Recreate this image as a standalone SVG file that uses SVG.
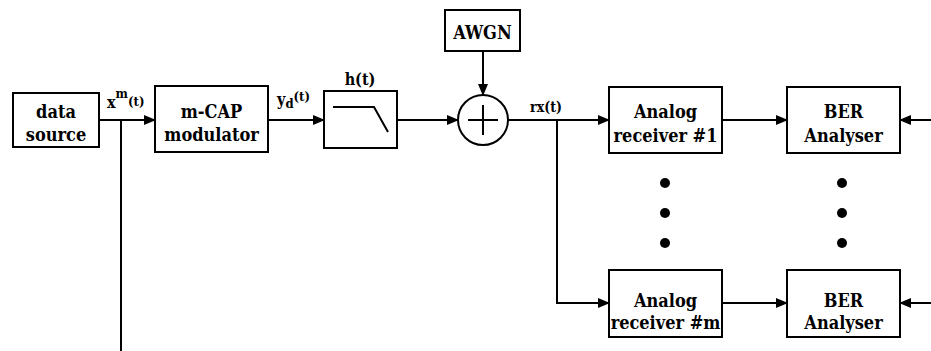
<svg xmlns="http://www.w3.org/2000/svg" width="931" height="351" viewBox="0 0 931 351">
<defs>
<style>
.box{fill:#fff;stroke:#000;stroke-width:2}
.ln{fill:none;stroke:#000;stroke-width:2}
.t{font-family:"DejaVu Serif Condensed","DejaVu Serif",serif;font-stretch:condensed;font-weight:bold;font-size:18px;fill:#000;text-anchor:middle}
.lb{font-family:"DejaVu Serif Condensed","DejaVu Serif",serif;font-stretch:condensed;font-weight:bold;fill:#000}
.dot{fill:#000}
</style>
<marker id="ah" markerWidth="12" markerHeight="10" refX="11" refY="5" orient="auto" markerUnits="userSpaceOnUse">
<path d="M0,0 L12,5 L0,10 Z" fill="#000"/>
</marker>
</defs>
<rect width="931" height="351" fill="#fff"/>
<g id="connectors">
<line class="ln" x1="99" y1="120" x2="155" y2="120" marker-end="url(#ah)"/>
<line class="ln" x1="121" y1="120" x2="121" y2="351"/>
<line class="ln" x1="268" y1="120" x2="324" y2="120" marker-end="url(#ah)"/>
<line class="ln" x1="397" y1="120" x2="458" y2="120" marker-end="url(#ah)"/>
<line class="ln" x1="483" y1="51" x2="483" y2="95" marker-end="url(#ah)"/>
<line class="ln" x1="508" y1="120" x2="609" y2="120" marker-end="url(#ah)"/>
<polyline class="ln" points="557,120 557,303 609,303" marker-end="url(#ah)"/>
<line class="ln" x1="722" y1="120" x2="787" y2="120" marker-end="url(#ah)"/>
<line class="ln" x1="722" y1="303" x2="787" y2="303" marker-end="url(#ah)"/>
<line class="ln" x1="931" y1="120" x2="900" y2="120" marker-end="url(#ah)"/>
<line class="ln" x1="931" y1="303" x2="900" y2="303" marker-end="url(#ah)"/>
</g>
<g id="labels">
<text class="lb" x="107" y="108" font-size="16">x<tspan font-size="13" dy="-10">m</tspan><tspan font-size="13" dy="8">(t)</tspan></text>
<text class="lb" x="277" y="105" font-size="16">y<tspan font-size="13" dy="3">d</tspan><tspan font-size="13" dy="-7">(t)</tspan></text>
<text class="lb" x="360" y="85" font-size="16" text-anchor="middle">h(t)</text>
<text class="lb" x="546" y="112" font-size="14" text-anchor="middle">rx(t)</text>
</g>
<g id="data_source">
<rect class="box" x="13" y="93" width="86" height="54"/>
<text class="t" x="56" y="118">data</text>
<text class="t" x="56" y="141">source</text>
</g>
<g id="mcap_modulator">
<rect class="box" x="155" y="86" width="113" height="66"/>
<text class="t" x="211.5" y="118">m-CAP</text>
<text class="t" x="211.5" y="141">modulator</text>
</g>
<g id="filter">
<rect class="box" x="324" y="91" width="73" height="57"/>
<polyline class="ln" points="333,107 374,107 388,132"/>
</g>
<g id="awgn">
<rect class="box" x="445" y="10" width="75" height="41"/>
<text class="t" x="482.5" y="39">AWGN</text>
</g>
<g id="adder">
<circle class="box" cx="483" cy="120" r="25"/>
<line class="ln" x1="468" y1="120" x2="498" y2="120"/>
<line class="ln" x1="483" y1="105" x2="483" y2="135"/>
</g>
<g id="receiver1">
<rect class="box" x="609" y="87" width="113" height="66"/>
<text class="t" x="665.5" y="118">Analog</text>
<text class="t" x="665.5" y="142">receiver #1</text>
</g>
<g id="ber1">
<rect class="box" x="787" y="87" width="113" height="66"/>
<text class="t" x="843.5" y="118">BER</text>
<text class="t" x="843.5" y="142">Analyser</text>
</g>
<g id="receiverm">
<rect class="box" x="609" y="270" width="113" height="67"/>
<text class="t" x="665.5" y="307">Analog</text>
<text class="t" x="665.5" y="329">receiver #m</text>
</g>
<g id="berm">
<rect class="box" x="787" y="270" width="113" height="67"/>
<text class="t" x="843.5" y="307">BER</text>
<text class="t" x="843.5" y="329">Analyser</text>
</g>
<g id="ellipsis">
<circle class="dot" cx="665" cy="183" r="5"/>
<circle class="dot" cx="665" cy="213" r="5"/>
<circle class="dot" cx="665" cy="243" r="5"/>
<circle class="dot" cx="842" cy="183" r="5"/>
<circle class="dot" cx="842" cy="213" r="5"/>
<circle class="dot" cx="842" cy="243" r="5"/>
</g>
</svg>
